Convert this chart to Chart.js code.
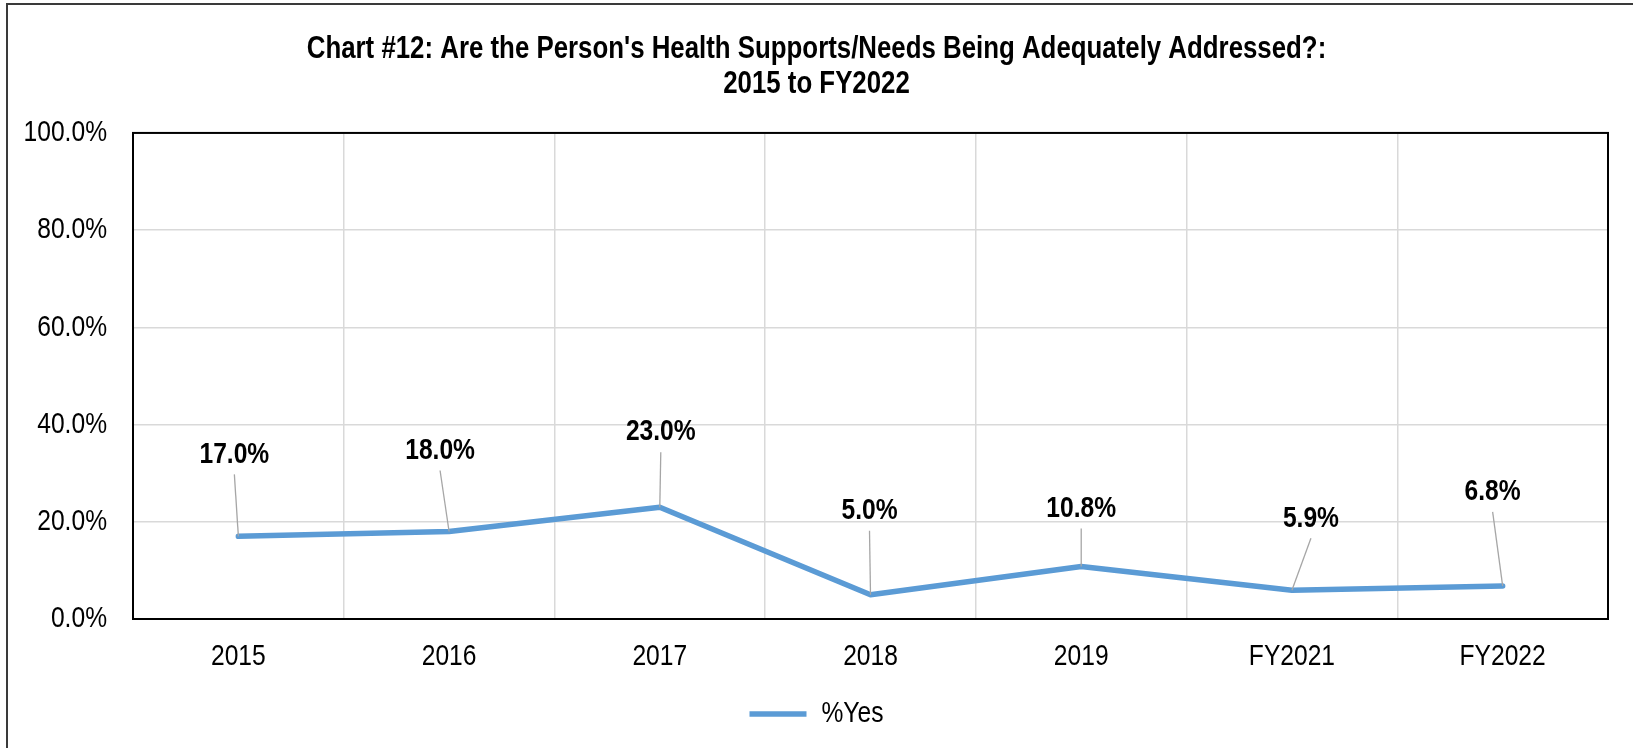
<!DOCTYPE html>
<html><head><meta charset="utf-8">
<script src="https://cdn.jsdelivr.net/npm/chart.js@4/dist/chart.umd.min.js"></script>
<style>html,body{margin:0;padding:0;background:#fff;overflow:hidden}</style>
</head><body>
<canvas id="c" width="1633" height="748" style="display:block;width:1633px;height:748px"></canvas>
<script>
const categories = ['2015', '2016', '2017', '2018', '2019', 'FY2021', 'FY2022'];
const yesValues = [17.0, 18.0, 23.0, 5.0, 10.8, 5.9, 6.8];
const seriesName = '%Yes';
const titleLines = ["Chart #12: Are the Person's Health Supports/Needs Being Adequately Addressed?:", '2015 to FY2022'];
const yTicks = [0, 20, 40, 60, 80, 100];
// callout placement (pixel offsets from each point), style only
const labelOffsets = [[-4, -82], [-9, -81], [1, -75], [-1, -84], [0, -58], [19, -72], [-10, -94]];

// Arial Narrow look: Liberation Sans drawn at 82% width (no narrow face installed)
const NARROW = 0.82;
(function () {
  const proto = CanvasRenderingContext2D.prototype;
  const origFill = proto.fillText, origMeasure = proto.measureText;
  proto.fillText = function (text, x, y, maxWidth) {
    this.save();
    this.translate(x, y);
    this.scale(NARROW, 1);
    if (maxWidth !== undefined && maxWidth !== null) origFill.call(this, text, 0, 0, maxWidth / NARROW);
    else origFill.call(this, text, 0, 0);
    this.restore();
  };
  proto.measureText = function (text) {
    const m = origMeasure.call(this, text);
    return {
      width: m.width * NARROW,
      actualBoundingBoxLeft: m.actualBoundingBoxLeft * NARROW,
      actualBoundingBoxRight: m.actualBoundingBoxRight * NARROW,
      actualBoundingBoxAscent: m.actualBoundingBoxAscent,
      actualBoundingBoxDescent: m.actualBoundingBoxDescent,
      fontBoundingBoxAscent: m.fontBoundingBoxAscent,
      fontBoundingBoxDescent: m.fontBoundingBoxDescent
    };
  };
})();

const FONT = "'Liberation Sans', Arial, sans-serif";
Chart.defaults.font.family = FONT;
Chart.defaults.color = '#000';

const framePlugin = {
  id: 'frames',
  beforeDatasetsDraw(chart) {
    const {ctx, chartArea: a} = chart;
    ctx.save();
    ctx.strokeStyle = '#000';
    ctx.lineWidth = 2;
    ctx.strokeRect(a.left, a.top, a.right - a.left, a.bottom - a.top);
    ctx.restore();
  },
  afterDraw(chart) {
    const {ctx} = chart;
    ctx.save();
    ctx.strokeStyle = '#3a3a3a';
    ctx.lineWidth = 2;
    ctx.strokeRect(7, 4, 2000, 2000);
    ctx.restore();
  }
};

const calloutPlugin = {
  id: 'callouts',
  afterDatasetsDraw(chart) {
    const {ctx} = chart;
    const meta = chart.getDatasetMeta(0);
    ctx.save();
    meta.data.forEach((pt, i) => {
      const [dx, dy] = labelOffsets[i];
      const lx = pt.x + dx, ly = pt.y + dy;
      ctx.strokeStyle = '#A6A6A6';
      ctx.lineWidth = 1.3;
      ctx.beginPath();
      ctx.moveTo(lx, ly + 20);
      ctx.lineTo(pt.x, pt.y);
      ctx.stroke();
      ctx.fillStyle = '#000';
      ctx.font = 'bold 30px ' + FONT;
      ctx.textAlign = 'center';
      ctx.textBaseline = 'middle';
      ctx.fillText(yesValues[i].toFixed(1) + '%', lx, ly);
    });
    ctx.restore();
  }
};

new Chart(document.getElementById('c'), {
  type: 'line',
  data: {
    labels: categories,
    datasets: [{
      label: seriesName,
      data: yesValues,
      borderColor: '#5B9BD5',
      backgroundColor: '#5B9BD5',
      borderWidth: 5.5,
      borderCapStyle: 'round',
      borderJoinStyle: 'round',
      pointRadius: 0,
      pointHoverRadius: 0,
      tension: 0,
      fill: false
    }]
  },
  options: {
    responsive: false,
    animation: false,
    devicePixelRatio: 1,
    layout: {padding: {left: 25, right: 25, top: 0, bottom: 9}},
    plugins: {
      title: {
        display: true,
        text: titleLines,
        color: '#000',
        font: {size: 31.5, weight: 'bold', lineHeight: 1.11},
        padding: {top: 31.5, bottom: 31.5}
      },
      legend: {
        position: 'bottom',
        labels: {
          color: '#000',
          font: {size: 30},
          usePointStyle: true,
          pointStyle: 'line',
          pointStyleWidth: 57,
          boxHeight: 30,
          padding: 10
        }
      },
      tooltip: {enabled: false}
    },
    scales: {
      x: {
        offset: true,
        grid: {offset: true, color: '#D9D9D9', lineWidth: 1.5, drawTicks: false},
        border: {display: false},
        ticks: {font: {size: 30}, color: '#000', padding: 20, maxRotation: 0},
        afterFit(s) { s.height = 70; }
      },
      y: {
        min: 0,
        max: 100,
        afterBuildTicks(s) { s.ticks = yTicks.map(v => ({value: v})); },
        grid: {color: '#D9D9D9', lineWidth: 1.5, drawTicks: false},
        border: {display: false},
        ticks: {font: {size: 30}, color: '#000', padding: 26, callback: v => v.toFixed(1) + '%'},
        afterFit(s) { s.width = 108; }
      }
    }
  },
  plugins: [framePlugin, calloutPlugin]
});
</script>
</body></html>
